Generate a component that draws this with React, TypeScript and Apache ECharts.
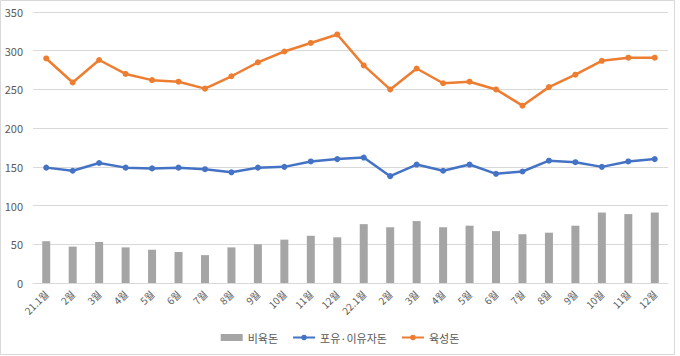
import React, { useEffect, useRef } from "react";
import * as echarts from "echarts";

const categories = [
  "21.1월", "2월", "3월", "4월", "5월", "6월", "7월", "8월", "9월", "10월", "11월", "12월",
  "22.1월", "2월", "3월", "4월", "5월", "6월", "7월", "8월", "9월", "10월", "11월", "12월",
];
const fattening = [54, 47, 53, 46, 43, 40, 36, 46, 50, 56, 61, 59, 76, 72, 80, 72, 74, 67, 63, 65, 74, 91, 89, 91];
const sowPiglet = [149, 145, 155, 149, 148, 149, 147, 143, 149, 150, 157, 160, 162, 138, 153, 145, 153, 141, 144, 158, 156, 150, 157, 160];
const growing = [290, 259, 288, 270, 262, 260, 251, 267, 285, 299, 310, 321, 281, 250, 277, 258, 260, 250, 229, 253, 269, 287, 291, 291];
const seriesNames = ["비육돈", "포유·이유자돈", "육성돈"];

export default function App() {
  const ref = useRef<HTMLDivElement>(null);
  useEffect(() => {
    if (!ref.current) return;
    const chart = echarts.init(ref.current, null, { renderer: "svg" });
    const font = "'Noto Sans CJK KR', 'Noto Sans', sans-serif";
    chart.setOption({
      animation: false,
      backgroundColor: "#ffffff",
      textStyle: { fontFamily: font },
      graphic: [
        {
          type: "rect",
          shape: { x: 0.5, y: 0.5, width: 674, height: 354 },
          style: { fill: "none", stroke: "#d9d9d9", lineWidth: 1 },
          silent: true,
        },
      ],
      grid: { left: 33, right: 12, top: 12, bottom: 73, containLabel: false },
      legend: {
        bottom: 8,
        left: "center",
        itemWidth: 22,
        itemHeight: 7,
        itemGap: 14,
        textStyle: { color: "#595959", fontSize: 11, fontFamily: font },
        data: [
          { name: seriesNames[0], icon: "rect" },
          { name: seriesNames[1] },
          { name: seriesNames[2] },
        ],
      },
      xAxis: {
        type: "category",
        data: categories,
        boundaryGap: true,
        axisTick: { show: false },
        axisLine: { lineStyle: { color: "#d9d9d9", width: 1 } },
        axisLabel: { rotate: 45, fontSize: 10, color: "#595959", margin: 9, interval: 0, fontFamily: font },
      },
      yAxis: {
        type: "value",
        min: 0,
        max: 350,
        interval: 50,
        axisLine: { show: false },
        axisTick: { show: false },
        axisLabel: { fontSize: 11, color: "#595959", margin: 10, fontFamily: font },
        splitLine: { lineStyle: { color: "#d9d9d9", width: 1 } },
      },
      series: [
        {
          name: seriesNames[0],
          type: "bar",
          data: fattening,
          barWidth: 8,
          itemStyle: { color: "#a5a5a5" },
        },
        {
          name: seriesNames[1],
          type: "line",
          data: sowPiglet,
          symbol: "circle",
          symbolSize: 6,
          lineStyle: { color: "#4472c4", width: 2.5 },
          itemStyle: { color: "#4472c4" },
        },
        {
          name: seriesNames[2],
          type: "line",
          data: growing,
          symbol: "circle",
          symbolSize: 6,
          lineStyle: { color: "#ed7d31", width: 2.5 },
          itemStyle: { color: "#ed7d31" },
        },
      ],
    });
    return () => chart.dispose();
  }, []);
  return (
    <div
      ref={ref}
      style={{ position: "fixed", left: 0, top: 0, width: 680, height: 356 }}
    />
  );
}
